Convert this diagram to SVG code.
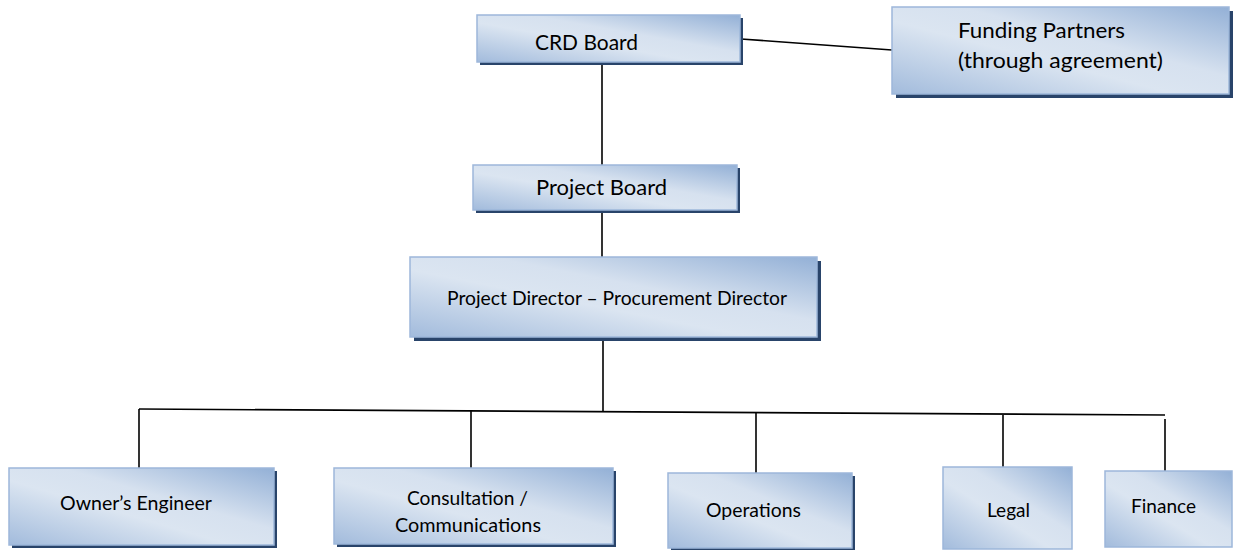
<svg xmlns="http://www.w3.org/2000/svg" width="1237" height="550" viewBox="0 0 1237 550">
  <defs>
    <!-- diagonal blue fill: darker at bottom-left and top-right corners -->
    <linearGradient id="boxFill" x1="0" y1="1" x2="1" y2="0">
      <stop offset="0" stop-color="#a2bbdc"/>
      <stop offset="0.42" stop-color="#dbe5f1"/>
      <stop offset="0.6" stop-color="#d6e1ef"/>
      <stop offset="1" stop-color="#93b0d6"/>
    </linearGradient>
  </defs>
  <style>
    .shadow { fill: #29446a; }
    .box { fill: url(#boxFill); stroke: #9db7da; stroke-width: 1.5; }
    .lbl { font-family: Lato, "Liberation Sans", sans-serif; fill: #000; }
    .big { font-size: 21.5px; }
    .small { font-size: 19px; }
    .wire { stroke: #000; stroke-width: 1.6; fill: none; }
  </style>
  <rect width="1237" height="550" fill="#fff"/>

  <!-- connectors -->
  <g id="connectors">
    <line class="wire" x1="741" y1="39" x2="892" y2="50"/>
    <line class="wire" x1="602" y1="64" x2="602" y2="165"/>
    <line class="wire" x1="602" y1="212" x2="602" y2="257"/>
    <line class="wire" x1="603" y1="340" x2="603" y2="411"/>
    <line class="wire" x1="139" y1="409" x2="1165" y2="415"/>
    <line class="wire" x1="139" y1="409" x2="139" y2="468"/>
    <line class="wire" x1="471" y1="411" x2="471" y2="468"/>
    <line class="wire" x1="756" y1="413" x2="756" y2="473"/>
    <line class="wire" x1="1003" y1="415" x2="1003" y2="467"/>
    <line class="wire" x1="1165" y1="419" x2="1165" y2="471"/>
  </g>

  <g id="crd-board">
    <rect class="shadow" x="480" y="18" width="263" height="47"/>
    <rect class="box" x="477" y="15" width="263" height="47"/>
    <text class="lbl big" x="535" y="50" textLength="103" lengthAdjust="spacingAndGlyphs">CRD Board</text>
  </g>

  <g id="funding-partners">
    <rect class="shadow" x="896" y="11" width="337" height="87"/>
    <rect class="box" x="892" y="7" width="337" height="87"/>
    <text class="lbl big" x="958" y="38" textLength="167" lengthAdjust="spacingAndGlyphs">Funding Partners</text>
    <text class="lbl big" x="958" y="68" textLength="205" lengthAdjust="spacingAndGlyphs">(through agreement)</text>
  </g>

  <g id="project-board">
    <rect class="shadow" x="476" y="168" width="264" height="45"/>
    <rect class="box" x="473" y="165" width="264" height="45"/>
    <text class="lbl big" x="536" y="195" textLength="131" lengthAdjust="spacingAndGlyphs">Project Board</text>
  </g>

  <g id="project-director">
    <rect class="shadow" x="414" y="261" width="407" height="80"/>
    <rect class="box" x="410" y="257" width="407" height="80"/>
    <text class="lbl small" x="447" y="305" textLength="340" lengthAdjust="spacingAndGlyphs">Project Director – Procurement Director</text>
  </g>

  <g id="owners-engineer">
    <rect class="shadow" x="12" y="471" width="265" height="77"/>
    <rect class="box" x="9" y="468" width="265" height="77"/>
    <text class="lbl small" x="60" y="510" textLength="152" lengthAdjust="spacingAndGlyphs">Owner’s Engineer</text>
  </g>

  <g id="consultation">
    <rect class="shadow" x="337" y="471" width="279" height="76"/>
    <rect class="box" x="334" y="468" width="279" height="76"/>
    <text class="lbl small" x="407" y="505" textLength="121" lengthAdjust="spacingAndGlyphs">Consultation /</text>
    <text class="lbl small" x="395" y="532" textLength="146" lengthAdjust="spacingAndGlyphs">Communications</text>
  </g>

  <g id="operations">
    <rect class="shadow" x="671" y="476" width="184" height="75"/>
    <rect class="box" x="668" y="473" width="184" height="75"/>
    <text class="lbl small" x="706" y="517" textLength="95" lengthAdjust="spacingAndGlyphs">Operations</text>
  </g>

  <g id="legal">
    <rect class="box" x="943" y="467" width="129" height="82"/>
    <text class="lbl small" x="987" y="517" textLength="43" lengthAdjust="spacingAndGlyphs">Legal</text>
  </g>

  <g id="finance">
    <rect class="box" x="1105" y="471" width="127" height="76"/>
    <text class="lbl small" x="1131" y="513" textLength="65" lengthAdjust="spacingAndGlyphs">Finance</text>
  </g>
</svg>
